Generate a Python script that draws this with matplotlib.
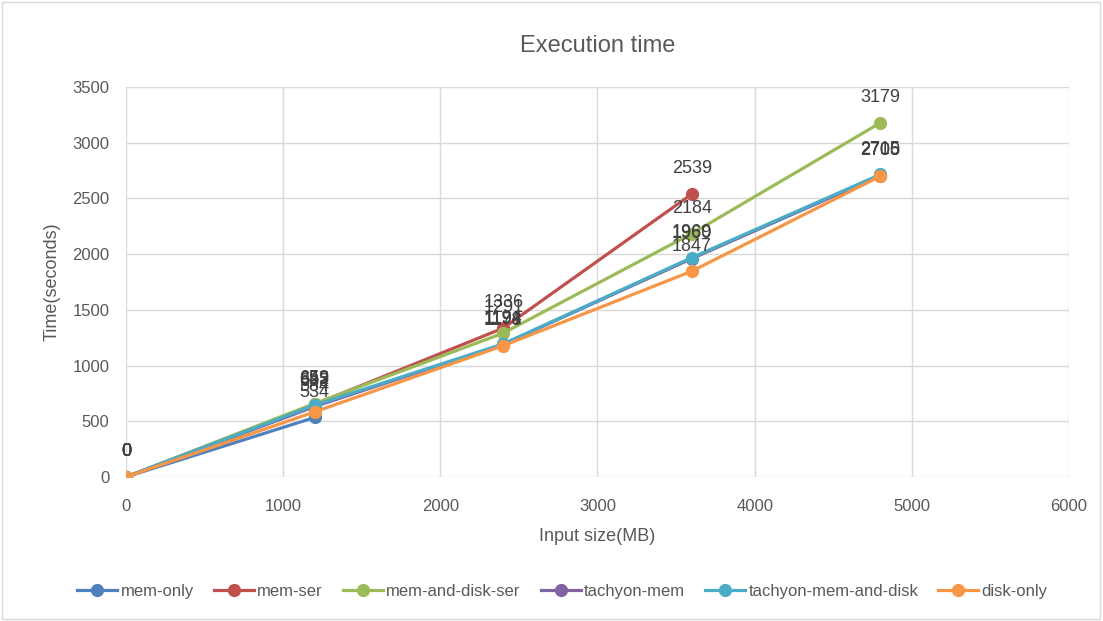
import matplotlib.pyplot as plt
from matplotlib.patches import Rectangle

# Execution time per storage level
input_size = [0, 1200, 2400, 3600, 4800]

series_names = ['mem-only', 'mem-ser', 'mem-and-disk-ser',
                'tachyon-mem', 'tachyon-mem-and-disk', 'disk-only']
mem_only = [0, 534]
mem_ser = [0, 652, 1336, 2539]
mem_and_disk_ser = [0, 659, 1291, 2184, 3179]
tachyon_mem = [0, 632, 1191, 1960, 2705]
tachyon_mem_and_disk = [0, 645, 1194, 1969, 2715]
disk_only = [0, 584, 1178, 1847, 2700]

colors = ['#4F81BD', '#C0504D', '#9BBB59', '#8064A2', '#4BACC6', '#F79646']
text_color = '#595959'

plt.rcParams['font.family'] = ['Liberation Sans', 'DejaVu Sans']

fig = plt.figure(figsize=(11.03, 6.21), dpi=100)
ax = fig.add_axes([0.1142, 0.2319, 0.855, 0.628])

all_series = [mem_only, mem_ser, mem_and_disk_ser, tachyon_mem, tachyon_mem_and_disk, disk_only]
for name, vals, c in zip(series_names, all_series, colors):
    xs = input_size[:len(vals)]
    ax.plot(xs, vals, color=c, lw=2.3, marker='o', markersize=8.5, label=name, zorder=3)

# value labels above every point
for vals in all_series:
    xs = input_size[:len(vals)]
    for x, v in zip(xs, vals):
        ax.annotate(str(v), (x, v), xytext=(0, 12), textcoords='offset points',
                    ha='center', va='bottom', fontsize=13, color='#404040', zorder=5)

ax.set_xlim(0, 6000)
ax.set_ylim(0, 3500)
ax.set_xticks(range(0, 6001, 1000))
ax.set_yticks(range(0, 3501, 500))
ax.grid(True, color='#D9D9D9', lw=1)
ax.set_axisbelow(True)
for s in ax.spines.values():
    s.set_visible(False)
ax.tick_params(length=0, labelsize=12, colors=text_color)
ax.tick_params(axis='x', pad=16)
ax.tick_params(axis='y', pad=12)

ax.set_title('Execution time', fontsize=17, color=text_color, pad=25)
ax.set_xlabel('Input size(MB)', fontsize=13, color=text_color, labelpad=10)
ax.set_ylabel('Time(seconds)', fontsize=13, color=text_color, labelpad=8)

ax.legend(loc='upper center', bbox_to_anchor=(0.463, -0.235), ncol=6, frameon=False,
          fontsize=12, handlelength=2.4, handletextpad=0.2, columnspacing=1.2,
          labelcolor=text_color)

fig.patches.append(Rectangle((0.002, 0.003), 0.995, 0.994, transform=fig.transFigure,
                             fill=False, edgecolor='#D9D9D9', lw=1))

fig.savefig('out.png', dpi=100)
